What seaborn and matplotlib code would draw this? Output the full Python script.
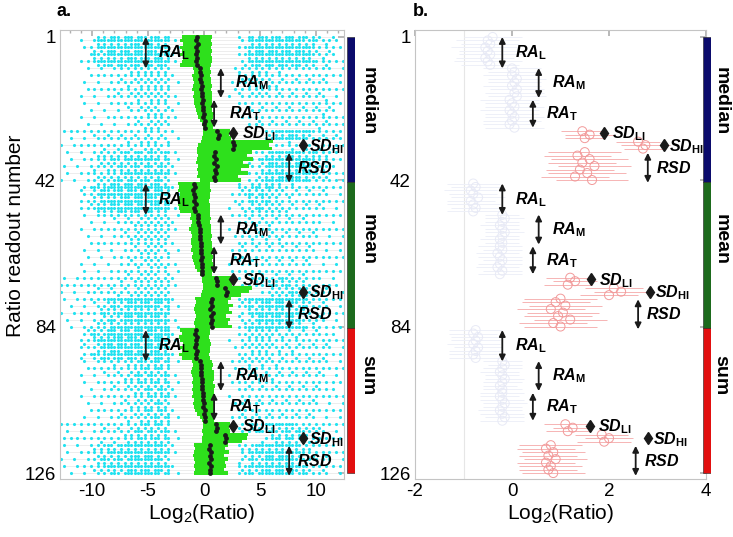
import numpy as np
import pandas as pd
import seaborn as sns
import matplotlib.pyplot as plt
from matplotlib.ticker import MultipleLocator

# --- Visual ---
sns.set_theme(style="white")
plt.rcParams['font.family'] = ['Liberation Sans', 'DejaVu Sans']
plt.rcParams['axes.unicode_minus'] = False
plt.rcParams['text.color'] = 'black'
plt.rcParams['axes.labelcolor'] = 'black'
plt.rcParams['xtick.labelcolor'] = 'black'
plt.rcParams['ytick.labelcolor'] = 'black'
plt.rcParams['mathtext.fontset'] = 'custom'
plt.rcParams['mathtext.rm'] = 'Liberation Sans'
plt.rcParams['mathtext.it'] = 'Liberation Sans:italic'
plt.rcParams['mathtext.bf'] = 'Liberation Sans:bold'
plt.rcParams['mathtext.bfit'] = 'Liberation Sans:bold:italic'

# --- Dados ---
grupos = ['RA_L', 'RA_M', 'RA_T', 'SD_LI', 'SD_HI', 'RSD']
tamanhos = [9, 9, 9, 3, 3, 9]
blocos = ['median', 'mean', 'sum']
cores_blocos = ['#0b0b6c', '#1d6a1d', '#e20f0f']

# mediana por linha (pontos pretos, painel a)
mediana_median = [-0.6, -0.7, -0.55, -0.75, -0.6, -0.7, -0.65, -0.75, -0.6,
                  -0.4, -0.35, -0.3, -0.35, -0.25, -0.2, -0.25, -0.2, -0.15,
                  -0.1, -0.15, -0.05, -0.1, 0.0, -0.05, 0.05, 0.0, 0.05,
                  1.2, 1.35, 1.25,
                  2.55, 2.7, 2.6,
                  1.0, 0.85, 1.1, 0.9, 1.2, 0.95, 1.05, 0.85, 1.0]
mediana_mean = [-0.9, -0.8, -0.95, -0.85, -0.8, -0.9, -0.75, -0.85, -0.8,
                -0.55, -0.5, -0.5, -0.45, -0.4, -0.4, -0.35, -0.35, -0.3,
                -0.3, -0.25, -0.3, -0.2, -0.25, -0.2, -0.15, -0.2, -0.15,
                1.1, 1.2, 1.15,
                1.9, 2.05, 2.0,
                0.7, 0.6, 0.75, 0.55, 0.8, 0.65, 0.7, 0.6, 0.75]
mediana_sum = [-0.7, -0.8, -0.65, -0.75, -0.7, -0.8, -0.6, -0.75, -0.7,
               -0.35, -0.3, -0.3, -0.25, -0.25, -0.2, -0.2, -0.15, -0.2,
               -0.1, -0.05, -0.1, 0.0, -0.05, 0.05, 0.0, 0.05, 0.1,
               1.1, 1.2, 1.1,
               1.85, 1.95, 1.9,
               0.55, 0.45, 0.6, 0.5, 0.65, 0.45, 0.6, 0.5, 0.55]

# faixa verde por linha (inicio / fim)
verde_ini_median = [-2.0, -2.1, -1.9, -2.1, -2.0, -2.2, -1.9, -2.0, -2.1,
                    -1.0, -0.9, -1.1, -1.0, -0.9, -1.0, -1.1, -0.9, -1.0,
                    -0.9, -0.85, -0.8, -0.7, -0.6, -0.5, -0.4, -0.2, -0.1,
                    -0.1, -0.1, -0.2,
                    -0.3, -0.5, -0.6,
                    -0.6, -0.5, -0.6, -0.7, -0.5, -0.6, -0.5, -0.6, -0.4]
verde_fim_median = [0.7, 0.6, 0.75, 0.65, 0.7, 0.6, 0.7, 0.75, 0.65,
                    0.5, 0.6, 0.55, 0.65, 0.6, 0.7, 0.65, 0.75, 0.7,
                    0.7, 0.75, 0.8, 0.7, 0.85, 0.8, 0.75, 0.85, 0.8,
                    2.3, 2.2, 2.4,
                    6.2, 5.8, 6.1,
                    4.3, 3.8, 4.4, 3.5, 4.0, 3.3, 3.9, 3.0, 3.3]
verde_ini_mean = [-2.3, -2.2, -2.3, -2.1, -2.3, -2.2, -2.3, -2.2, -2.1,
                  -1.2, -1.25, -1.1, -1.2, -1.3, -1.2, -1.1, -1.2, -1.15,
                  -1.1, -1.2, -1.0, -1.1, -1.0, -0.9, -0.8, -0.6, -0.4,
                  -0.2, -0.2, -0.1,
                  -0.1, -0.2, -0.3,
                  -0.8, -0.7, -0.8, -0.9, -0.8, -0.7, -0.8, -0.9, -0.8]
verde_fim_mean = [0.55, 0.5, 0.6, 0.5, 0.55, 0.45, 0.5, 0.55, 0.5,
                  0.5, 0.6, 0.55, 0.6, 0.65, 0.6, 0.7, 0.65, 0.7,
                  0.75, 0.8, 0.7, 0.8, 0.75, 0.8, 0.85, 0.8, 0.75,
                  2.5, 2.4, 2.5,
                  4.3, 4.0, 3.3,
                  2.4, 2.1, 2.6, 2.2, 2.5, 2.0, 2.3, 2.1, 2.5]
verde_ini_sum = [-2.1, -2.0, -2.2, -2.1, -1.9, -2.1, -2.0, -2.2, -2.0,
                 -1.1, -1.0, -1.1, -1.2, -1.1, -1.0, -1.1, -1.0, -1.1,
                 -1.0, -1.1, -0.9, -1.0, -0.9, -0.8, -0.6, -0.4, -0.2,
                 -0.1, -0.1, -0.2,
                 -0.1, -0.2, -0.2,
                 -0.9, -0.8, -0.9, -1.0, -0.9, -0.8, -0.9, -0.8, -0.9]
verde_fim_sum = [0.5, 0.55, 0.45, 0.5, 0.6, 0.5, 0.55, 0.45, 0.5,
                 0.7, 0.8, 0.75, 0.9, 0.85, 0.9, 0.8, 0.95, 0.9,
                 0.9, 1.0, 0.95, 1.0, 0.9, 1.0, 0.95, 1.0, 0.9,
                 2.3, 2.2, 2.3,
                 3.9, 3.8, 3.4,
                 2.1, 1.9, 2.2, 1.8, 2.1, 1.9, 2.0, 1.8, 2.1]

# densidade dos pontos ciano (0-9) em faixas de 1 unidade, de -13 a 13; 1 texto por grupo
ciano_median = ["0026889998100" + "0003888887432",
                "0012234555100" + "0014554333322",
                "0011123454100" + "0002333333432",
                "1223334444100" + "0000037887432",
                "1122334454100" + "0000002444332",
                "1124567776100" + "0000378887532"]
ciano_mean = ["0036899998100" + "0014665433322",
              "0012234555100" + "0013444333222",
              "0011123454100" + "0013333333222",
              "2233344555100" + "0002456653221",
              "2223344555100" + "0000035665321",
              "1124678887100" + "0004788874322"]
ciano_sum = ["0036899998100" + "0013554443322",
             "0012345666100" + "0013444333322",
             "0012234566100" + "0013333333222",
             "2223345666100" + "0003677765321",
             "2223345666100" + "0000036665321",
             "1125678887100" + "0004788874322"]

# painel b: centro e meia-largura por linha
centro_median = [-0.4, -0.5, -0.45, -0.55, -0.5, -0.45, -0.55, -0.5, -0.45,
                 0.0, 0.05, 0.0, 0.1, 0.05, 0.0, 0.1, 0.05, 0.1,
                 -0.05, 0.0, 0.05, -0.05, 0.0, 0.05, 0.0, -0.05, 0.05,
                 1.45, 1.6, 1.5,
                 2.6, 2.75, 2.7,
                 1.5, 1.35, 1.6, 1.45, 1.7, 1.4, 1.55, 1.3, 1.65]
largura_median = [0.6, 0.65, 0.6, 0.7, 0.6, 0.65, 0.6, 0.7, 0.6,
                  0.6, 0.55, 0.6, 0.6, 0.55, 0.6, 0.55, 0.6, 0.6,
                  0.6, 0.55, 0.6, 0.6, 0.55, 0.6, 0.6, 0.55, 0.6,
                  0.45, 0.5, 0.4,
                  0.45, 0.5, 0.4,
                  0.75, 0.7, 0.8, 0.7, 0.75, 0.7, 0.8, 0.7, 0.75]
centro_mean = [-0.8, -0.75, -0.85, -0.8, -0.7, -0.85, -0.8, -0.75, -0.8,
               -0.2, -0.15, -0.2, -0.25, -0.2, -0.15, -0.2, -0.25, -0.2,
               -0.25, -0.2, -0.3, -0.25, -0.2, -0.25, -0.3, -0.2, -0.25,
               1.2, 1.3, 1.15,
               2.1, 2.25, 2.0,
               1.0, 0.9, 1.1, 0.8, 1.05, 0.95, 1.2, 0.85, 1.0]
largura_mean = [0.55, 0.5, 0.55, 0.5, 0.55, 0.5, 0.55, 0.5, 0.55,
                0.35, 0.4, 0.35, 0.4, 0.35, 0.4, 0.35, 0.4, 0.35,
                0.45, 0.4, 0.45, 0.45, 0.4, 0.45, 0.45, 0.4, 0.45,
                0.5, 0.45, 0.5,
                0.6, 0.55, 0.6,
                0.75, 0.7, 0.75, 0.7, 0.75, 0.7, 0.75, 0.7, 0.75]
centro_sum = [-0.75, -0.8, -0.7, -0.75, -0.8, -0.7, -0.75, -0.8, -0.75,
              -0.2, -0.15, -0.2, -0.25, -0.2, -0.15, -0.2, -0.25, -0.2,
              -0.2, -0.25, -0.2, -0.15, -0.2, -0.25, -0.2, -0.15, -0.2,
              1.1, 1.25, 1.15,
              1.85, 2.0, 1.9,
              0.8, 0.7, 0.85, 0.75, 0.9, 0.7, 0.8, 0.75, 0.85]
largura_sum = [0.55, 0.5, 0.55, 0.5, 0.55, 0.5, 0.55, 0.5, 0.55,
               0.4, 0.35, 0.4, 0.4, 0.35, 0.4, 0.4, 0.35, 0.4,
               0.45, 0.4, 0.45, 0.45, 0.4, 0.45, 0.45, 0.4, 0.45,
               0.45, 0.4, 0.45,
               0.55, 0.5, 0.55,
               0.65, 0.6, 0.65, 0.6, 0.65, 0.6, 0.65, 0.6, 0.65]

mediana = np.array(mediana_median + mediana_mean + mediana_sum)
verde_ini = np.array(verde_ini_median + verde_ini_mean + verde_ini_sum)
verde_fim = np.array(verde_fim_median + verde_fim_mean + verde_fim_sum)
centro = np.array(centro_median + centro_mean + centro_sum)
largura = np.array(largura_median + largura_mean + largura_sum)
ciano = ciano_median + ciano_mean + ciano_sum
linhas = np.arange(1, 127)
grupo_linha = np.repeat(np.tile(np.arange(6), 3), np.tile(tamanhos, 3))
bloco_linha = np.repeat(np.arange(3), 42)

# pontos ciano: densidade, desenhada com dithering ordenado
bayer = np.array([[0, 8, 2, 10], [12, 4, 14, 6], [3, 11, 1, 9], [15, 7, 13, 5]])
grade_x = np.arange(-12.8, 12.6, 0.3)
pts = []
for r in linhas:
    mask = ciano[bloco_linha[r - 1] * 6 + grupo_linha[r - 1]]
    for k, xv in enumerate(grade_x):
        d = int(mask[min(int(np.floor(xv + 13)), 25)])
        if d > (bayer[r % 4, (k + r // 4) % 4] + 0.5) / 1.6:
            pts.append((xv, r))
df_ciano = pd.DataFrame(pts, columns=['x', 'linha'])

# --- Layout das anotacoes (linhas relativas ao bloco) ---
setas_a = [('RA', 'L', -5.2, 0.0, 9.0, 1.1), ('RA', 'M', 1.5, 8.9, 17.5, 1.3),
           ('RA', 'T', 0.9, 18.0, 26.0, 1.3)]
diam_a = [('SD', 'LI', 2.6, 27.5, 0.8), ('SD', 'HI', 8.8, 31.0, 0.6)]
rsd_a = (7.6, 33.2, 41.8, 0.7)
setas_b = [('RA', 'L', -0.2, 0.0, 9.0, 0.27), ('RA', 'M', 0.55, 8.9, 17.5, 0.28),
           ('RA', 'T', 0.43, 18.0, 26.0, 0.28)]
diam_b_x = [(1.9, 3.13), (1.63, 2.85), (1.6, 2.8)]
rsd_b_x = [2.8, 2.6, 2.55]


def rotulo(p, s):
    return r'$\mathbfit{%s}_{\mathbf{%s}}$' % (p, s)


def seta(ax, x, y0, y1):
    ax.annotate('', xy=(x, y0), xytext=(x, y1),
                arrowprops=dict(arrowstyle='<|-|>', color='k', lw=1.3,
                                mutation_scale=9, shrinkA=0, shrinkB=0), zorder=6)


def anotar(ax, setas, diam, rsd):
    for b in range(3):
        off = 1 + 42 * b
        for p, s, x, y0, y1, dx in setas:
            seta(ax, x, y0 + off, y1 + off)
            ax.text(x + dx, (y0 + y1) / 2 + off, rotulo(p, s), fontsize=11.5,
                    va='center', ha='left', zorder=6)
        for p, s, x, y, dx in diam[b]:
            ax.plot(x, y + off, marker='d', ms=6.5, color='k', zorder=6)
            ax.text(x + dx, y + off + 0.3, rotulo(p, s), fontsize=11.5,
                    va='center', ha='left', zorder=6)
        x, y0, y1, dx = rsd[b]
        seta(ax, x, y0 + off, y1 + off)
        ax.text(x + dx, (y0 + y1) / 2 + off, r'$\mathbfit{RSD}$', fontsize=11.5,
                va='center', ha='left', zorder=6)


def estilo(ax):
    for sp in ax.spines.values():
        sp.set_color('#c4c4c4')
        sp.set_linewidth(0.8)
    ax.tick_params(axis='both', which='both', direction='in', color='#b0b0b0',
                   top=True, right=True, labelsize=13.5, length=4, pad=3)
    ax.tick_params(which='minor', length=2)
    ax.set_yticks([1, 42, 84, 126])
    ax.set_ylim(127.7, -1.0)
    ax.set_xlabel(r'Log$_2$(Ratio)', fontsize=15, labelpad=1)
    ax.set_ylabel('')


W, H = 733, 537
fig = plt.figure(figsize=(W / 100, H / 100), dpi=100)
ax_a = fig.add_axes([60 / W, 58 / H, 284 / W, 449 / H])
ax_b = fig.add_axes([415 / W, 58 / H, 291 / W, 449 / H])

# --- Painel a ---
lim_ini = np.minimum(verde_ini, df_ciano.groupby('linha')['x'].min().reindex(linhas).fillna(0).values)
lim_fim = np.maximum(verde_fim, df_ciano.groupby('linha')['x'].max().reindex(linhas).fillna(0).values)
ax_a.hlines(linhas, lim_ini, lim_fim, color='#e0e0e0', lw=0.4, zorder=1)
sns.scatterplot(data=df_ciano, x='x', y='linha', ax=ax_a, color='#22e2f0', marker='o',
                s=5, linewidth=0, zorder=2)
ax_a.barh(linhas, verde_fim - verde_ini, left=verde_ini, height=1.0,
          color='#2ee01c', linewidth=0, zorder=3)
sns.scatterplot(x=mediana, y=linhas, ax=ax_a, color='k', s=12, linewidth=0, zorder=4)
ax_a.set_xlim(-12.86, 12.5)
ax_a.set_xticks([-10, -5, 0, 5, 10])
ax_a.xaxis.set_minor_locator(MultipleLocator(1))
estilo(ax_a)
anotar(ax_a, setas_a, [diam_a] * 3, [rsd_a] * 3)

# --- Painel b ---
ax_b.axvline(-1, color='#e6e6e6', lw=0.8, zorder=0)
eh_ra = grupo_linha < 3
for sel, cor_l, cor_m in [(eh_ra, '#eef0f8', '#e8eaf6'), (~eh_ra, '#f6b4b4', '#f29a9a')]:
    ax_b.hlines(linhas[sel], centro[sel] - largura[sel], centro[sel] + largura[sel],
                color=cor_l, lw=0.7, zorder=2)
    ax_b.scatter(centro[sel], linhas[sel], s=42, facecolors='none', edgecolors=cor_m,
                 linewidths=0.7, zorder=3)
ax_b.set_xlim(-2, 4)
ax_b.set_xticks([-2, 0, 2, 4])
estilo(ax_b)
diam_b = [[('SD', 'LI', dl, 27.5, 0.17), ('SD', 'HI', dh, 31.0, 0.1)] for dl, dh in diam_b_x]
rsd_b = [(x, 33.2, 41.8, 0.17) for x in rsd_b_x]
anotar(ax_b, setas_b, diam_b, rsd_b)

# --- Barras de cor (median / mean / sum) ---
for xc, xt in [(347, 368), (703, 721)]:
    cb = fig.add_axes([xc / W, 58 / H, 8 / W, 449 / H])
    limites = [1, 42.5, 84.5, 126]
    for i in range(3):
        cb.bar(0, limites[i + 1] - limites[i], bottom=limites[i], width=1.0,
               color=cores_blocos[i], edgecolor='#202020', linewidth=0.4)
    cb.set_xlim(-0.5, 0.5)
    cb.set_ylim(127.7, -1.0)
    cb.axis('off')
    for nome, yp in zip(blocos, [101, 240, 375]):
        fig.text(xt / W, 1 - yp / H, nome, rotation=270, ha='center', va='center',
                 fontsize=14, fontweight='bold')

fig.text(16 / W, 1 - 236 / H, 'Ratio readout number', rotation=90, ha='center',
         va='center', fontsize=15)
fig.text(57 / W, 1 - 12 / H, 'a.', fontsize=13, fontweight='bold', va='center')
fig.text(413 / W, 1 - 12 / H, 'b.', fontsize=13, fontweight='bold', va='center')

fig.savefig('out.png', dpi=100)
